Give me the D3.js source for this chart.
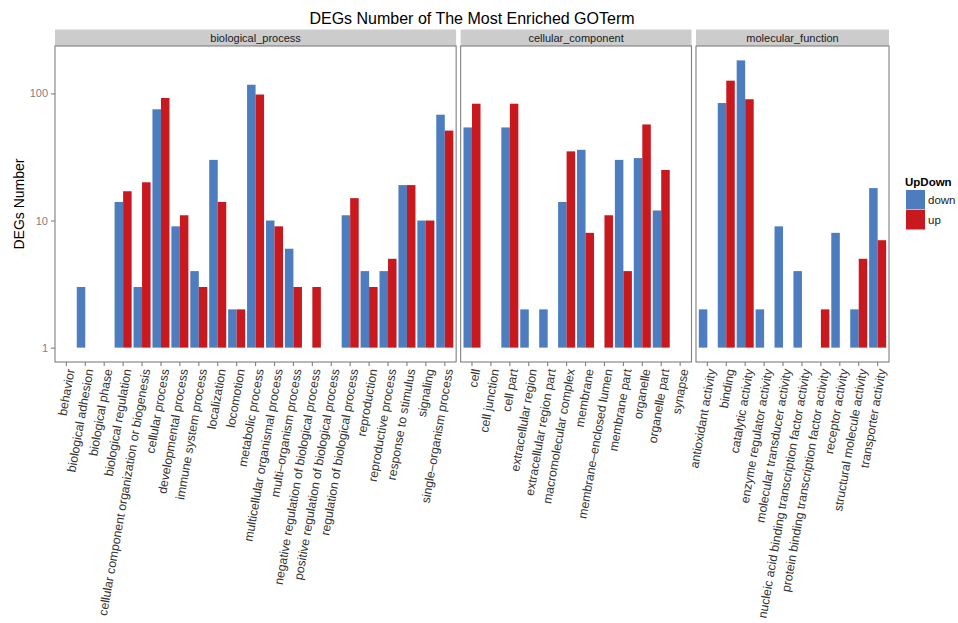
<!DOCTYPE html>
<html>
<head>
<meta charset="utf-8">
<script src="https://cdn.jsdelivr.net/npm/d3@7"></script>
<style>
  html, body { margin: 0; padding: 0; background: #fff; }
  svg { display: block; font-family: "Liberation Sans", Arial, Helvetica, sans-serif; }
</style>
</head>
<body>
<svg id="chart" width="958" height="623"></svg>
<script>
// GO categories (facets) and their terms
const ontologies = ["biological_process", "cellular_component", "molecular_function"];

const bpTerms = ["behavior", "biological adhesion", "biological phase", "biological regulation",
  "cellular component organization or biogenesis", "cellular process", "developmental process",
  "immune system process", "localization", "locomotion", "metabolic process",
  "multicellular organismal process", "multi\u2013organism process",
  "negative regulation of biological process", "positive regulation of biological process",
  "regulation of biological process", "reproduction", "reproductive process",
  "response to stimulus", "signaling", "single\u2013organism process"];
const bpDown = [null, 3, null, 14, 3, 75, 9, 4, 30, 2, 117, 10, 6, null, null, 11, 4, 4, 19, 10, 68];
const bpUp   = [null, null, null, 17, 20, 92, 11, 3, 14, 2, 98, 9, 3, 3, null, 15, 3, 5, 19, 10, 51];

const ccTerms = ["cell", "cell junction", "cell part", "extracellular region", "extracellular region part",
  "macromolecular complex", "membrane", "membrane\u2013enclosed lumen", "membrane part",
  "organelle", "organelle part", "synapse"];
const ccDown = [54, null, 54, 2, 2, 14, 36, null, 30, 31, 12, null];
const ccUp   = [83, null, 83, null, null, 35, 8, 11, 4, 57, 25, null];

const mfTerms = ["antioxidant activity", "binding", "catalytic activity", "enzyme regulator activity",
  "molecular transducer activity", "nucleic acid binding transcription factor activity",
  "protein binding transcription factor activity", "receptor activity",
  "structural molecule activity", "transporter activity"];
const mfDown = [2, 84, 182, 2, 9, 4, null, 8, 2, 18];
const mfUp   = [null, 126, 90, null, null, null, 2, null, 5, 7];

const groups = ["down", "up"];
const groupColors = ["#4D7DBF", "#C8191F"];
const yTicks = [1, 10, 100];

const chartTitle = "DEGs Number of The Most Enriched GOTerm";
const yTitle = "DEGs Number";
const legendTitle = "UpDown";

// assemble panels
const panels = [
  { name: ontologies[0], terms: bpTerms, down: bpDown, up: bpUp },
  { name: ontologies[1], terms: ccTerms, down: ccDown, up: ccUp },
  { name: ontologies[2], terms: mfTerms, down: mfDown, up: mfUp }
];

const svg = d3.select("#chart");

const plotLeft = 55, plotRight = 889, panelTop = 46, panelBottom = 362;
const stripTop = 29.5, panelGap = 4.5;

// shared log scale, padded 5% of the log range on each side
const allVals = panels.flatMap(p => p.down.concat(p.up)).filter(v => v != null);
const hi = Math.log10(d3.max(allVals));
const pad = 0.05 * hi;
const y = d3.scaleLog()
  .domain([Math.pow(10, -pad), Math.pow(10, hi + pad)])
  .range([panelBottom, panelTop]);

// panel widths proportional to number of terms (free space)
const totalUnits = d3.sum(panels, p => p.terms.length + 0.2);
const step = (plotRight - plotLeft - panelGap * (panels.length - 1)) / totalUnits;

const color = d3.scaleOrdinal().domain(groups).range(groupColors);

let xCursor = plotLeft;
panels.forEach((p, pi) => {
  const w = step * (p.terms.length + 0.2);
  const x0 = xCursor;
  xCursor += w + panelGap;

  const x = d3.scaleBand()
    .domain(p.terms)
    .range([x0, x0 + w])
    .paddingInner(0.1)
    .paddingOuter(0.15);
  const xSub = d3.scaleBand().domain(groups).range([0, x.bandwidth()]);

  // strip
  svg.append("rect")
    .attr("x", x0).attr("y", stripTop)
    .attr("width", w).attr("height", panelTop - stripTop)
    .attr("fill", "#CCCCCC");
  svg.append("text")
    .attr("x", x0 + w / 2).attr("y", (stripTop + panelTop) / 2)
    .attr("dy", "0.35em")
    .attr("text-anchor", "middle")
    .attr("font-size", 11)
    .attr("fill", "#1a1a1a")
    .text(p.name);

  // bars
  const rows = [];
  p.terms.forEach((t, i) => {
    if (p.down[i] != null) rows.push({ term: t, group: "down", value: p.down[i] });
    if (p.up[i] != null) rows.push({ term: t, group: "up", value: p.up[i] });
  });
  svg.append("g").selectAll("rect")
    .data(rows)
    .join("rect")
    .attr("x", d => x(d.term) + xSub(d.group))
    .attr("width", xSub.bandwidth())
    .attr("y", d => y(d.value))
    .attr("height", d => y(1) - y(d.value))
    .attr("fill", d => color(d.group));

  // panel border
  svg.append("rect")
    .attr("x", x0).attr("y", panelTop)
    .attr("width", w).attr("height", panelBottom - panelTop)
    .attr("fill", "none")
    .attr("stroke", "#7F7F7F")
    .attr("stroke-width", 1.1);

  // x axis
  const gx = svg.append("g")
    .attr("transform", `translate(0,${panelBottom})`)
    .call(d3.axisBottom(x).tickSize(4).tickSizeOuter(0));
  gx.select(".domain").remove();
  gx.selectAll(".tick line").attr("stroke", "#7F7F7F").attr("stroke-width", 1.1);
  gx.selectAll(".tick text")
    .attr("font-size", 12.3)
    .attr("font-family", "Liberation Sans, Arial, sans-serif")
    .attr("fill", "#333")
    .attr("text-anchor", "end")
    .attr("transform", "translate(4,7) rotate(-80)")
    .attr("x", 0).attr("y", 0)
    .attr("dy", "0.35em");

  // y axis on first panel only
  if (pi === 0) {
    const gy = svg.append("g")
      .attr("transform", `translate(${x0},0)`)
      .call(d3.axisLeft(y).tickValues(yTicks).tickFormat(d3.format("d")).tickSize(4).tickPadding(3));
    gy.select(".domain").remove();
    gy.selectAll(".tick line").attr("stroke", "#7F7F7F").attr("stroke-width", 1.1);
    gy.selectAll(".tick text")
      .attr("font-size", 11)
      .attr("font-family", "Liberation Sans, Arial, sans-serif")
      .attr("fill", "#7F7F7F");
  }
});

// title
svg.append("text")
  .attr("x", (plotLeft + plotRight) / 2).attr("y", 24)
  .attr("text-anchor", "middle")
  .attr("font-size", 16)
  .attr("fill", "#000")
  .text(chartTitle);

// y axis title
svg.append("text")
  .attr("transform", `translate(24,${(panelTop + panelBottom) / 2}) rotate(-90)`)
  .attr("text-anchor", "middle")
  .attr("font-size", 14)
  .attr("fill", "#000")
  .text(yTitle);

// legend
const lg = svg.append("g").attr("transform", "translate(905,0)");
lg.append("text")
  .attr("x", 0).attr("y", 186)
  .attr("font-size", 11.5)
  .attr("font-weight", "bold")
  .text(legendTitle);
groups.forEach((g, i) => {
  lg.append("rect")
    .attr("x", 1).attr("y", 190 + i * 20)
    .attr("width", 19).attr("height", 19.5)
    .attr("fill", color(g));
  lg.append("text")
    .attr("x", 23).attr("y", 200 + i * 20)
    .attr("dy", "0.35em")
    .attr("font-size", 11.5)
    .attr("fill", "#1a1a1a")
    .text(g);
});
</script>
</body>
</html>
